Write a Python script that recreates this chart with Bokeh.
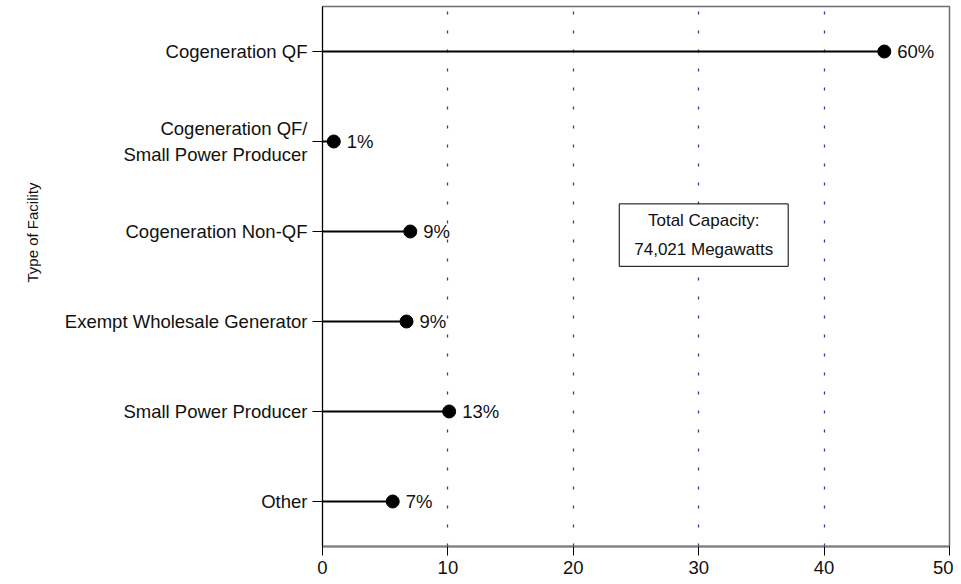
from bokeh.plotting import figure
from bokeh.models import FixedTicker, Label, Range1d, Title
from bokeh.core.properties import value
from bokeh.embed import file_html
from bokeh.resources import INLINE

# ---- data ----
categories = ["Other", "Small Power Producer", "Exempt Wholesale Generator",
              "Cogeneration Non-QF", "Cogeneration QF/\nSmall Power Producer",
              "Cogeneration QF"]
capacity_gw = [5.6, 10.1, 6.7, 7.0, 0.9, 44.8]
shares = ["7%", "13%", "9%", "9%", "1%", "60%"]
x_ticks = [0, 10, 20, 30, 40, 50]
total_text = "Total Capacity:\n74,021 Megawatts"
y_title = "Type of Facility"

FONT = "Liberation Sans"
rows = list(range(1, len(categories) + 1))

p = figure(width=953, height=576, output_backend="svg", toolbar_location=None,
           x_range=Range1d(0, 50), y_range=Range1d(0.5, 6.5),
           min_border_left=322, min_border_right=4, min_border_top=6,
           min_border_bottom=10)
p.background_fill_color = "white"
p.border_fill_color = "white"
p.outline_line_color = "#6e6e6e"
p.outline_line_width = 1.5

# grid
p.ygrid.visible = False
p.xgrid.ticker = FixedTicker(ticks=x_ticks)
p.xgrid.grid_line_color = "#3a3a9c"
p.xgrid.grid_line_dash = "3 16"
p.xgrid.grid_line_width = 1.3

# x axis
p.xaxis.ticker = FixedTicker(ticks=x_ticks)
p.xaxis.axis_line_color = "#7a7a7a"
p.xaxis.axis_line_width = 2
p.xaxis.major_tick_line_color = "black"
p.xaxis.major_tick_out = 9
p.xaxis.major_tick_in = 0
p.xaxis.minor_tick_line_color = None
p.xaxis.major_label_text_font = FONT
p.xaxis.major_label_text_font_size = "18.5px"
p.xaxis.major_label_text_color = "#111111"
p.xaxis.major_label_standoff = 5

# y axis
p.yaxis.ticker = FixedTicker(ticks=rows)
p.yaxis.major_label_overrides = {r: c for r, c in zip(rows, categories)}
p.yaxis.axis_line_color = "black"
p.yaxis.major_tick_line_color = "black"
p.yaxis.major_tick_out = 10
p.yaxis.major_tick_in = 0
p.yaxis.minor_tick_line_color = None
p.yaxis.major_label_text_font = FONT
p.yaxis.major_label_text_font_size = "18.5px"
p.yaxis.major_label_text_color = "#111111"
p.yaxis.major_label_standoff = 5

# y axis title, placed as a left-side title so it can be positioned
p.add_layout(Title(text=y_title, align="left", offset=264, standoff=41,
                   text_font=FONT, text_font_size="15px",
                   text_font_style="normal", text_color="#111111"), "left")

# stems, dots, labels
p.segment(x0=[0] * len(rows), y0=rows, x1=capacity_gw, y1=rows,
          line_color="black", line_width=2)
p.scatter(x=capacity_gw, y=rows, size=13, color="black")
p.text(x=capacity_gw, y=rows, text=shares, x_offset=13,
       text_baseline="middle", text_align="left",
       text_font=value(FONT), text_font_size="18.5px", text_color="#111111")

# total capacity box
box = Label(x=30.4, y=3.96, text=total_text, text_align="center",
            text_baseline="middle", text_font=FONT, text_font_size="17px",
            text_line_height=1.55, text_color="#111111",
            border_line_color="black", border_line_width=1,
            background_fill_color="white",
            padding=dict(left=15, right=15, top=7, bottom=7))
p.add_layout(box)

open("out.html", "w").write(file_html(p, INLINE))
